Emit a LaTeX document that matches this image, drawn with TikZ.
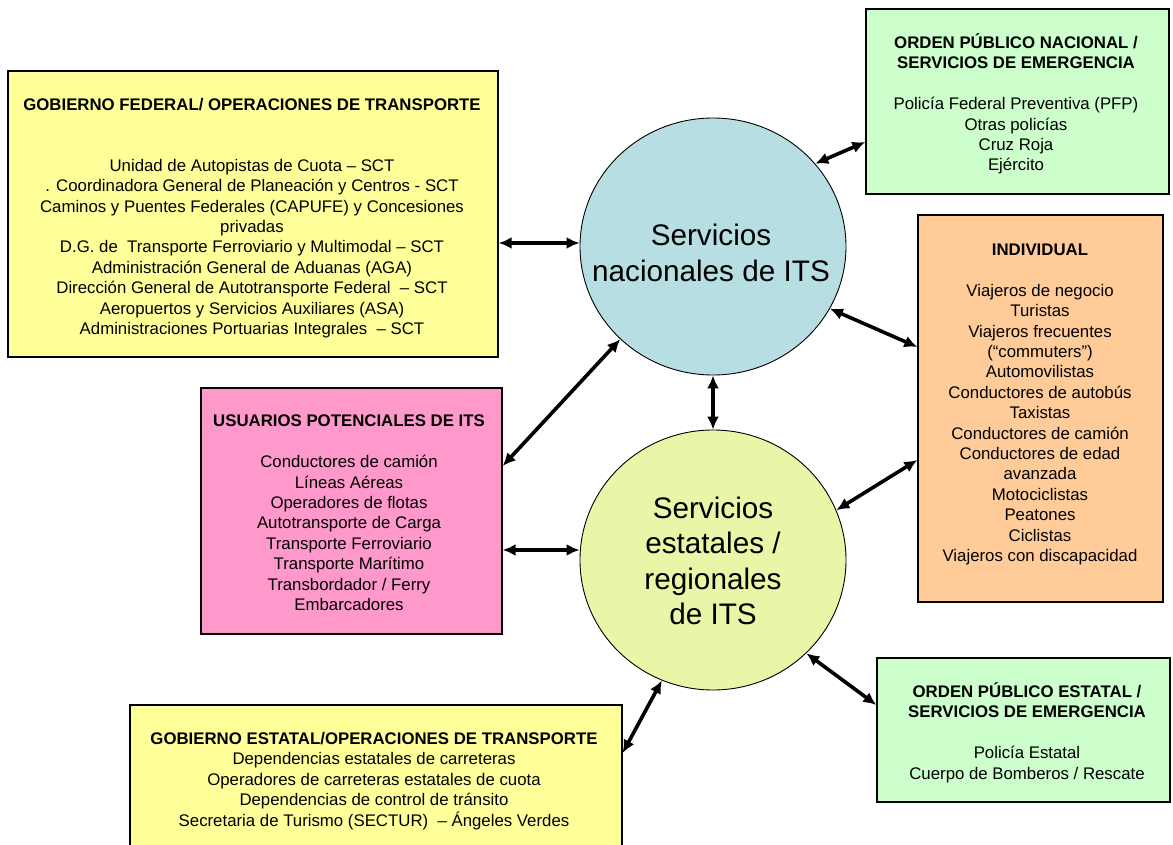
\documentclass[tikz,border=0pt]{standalone}
\usepackage{fontspec}
\setmainfont{Liberation Sans}
\usetikzlibrary{shapes.geometric,arrows.meta,calc}
\definecolor{boxyellow}{RGB}{255,255,153}
\definecolor{boxgreen}{RGB}{204,255,204}
\definecolor{boxorange}{RGB}{255,204,153}
\definecolor{boxpink}{RGB}{255,153,204}
\definecolor{hubblue}{RGB}{183,222,227}
\definecolor{hubyellow}{RGB}{232,246,168}
\begin{document}
\begin{tikzpicture}[x=1pt,y=-1pt,
  box/.style={draw=black, line width=1.3pt, inner sep=0pt},
  txt/.style={align=center, font=\fontsize{16.8}{20.4}\selectfont, inner sep=0pt},
  hub/.style={ellipse, draw=black, line width=0.9pt, inner sep=0pt, minimum width=266pt},
  hubtxt/.style={align=center, font=\fontsize{29.7}{35.5}\selectfont, inner sep=0pt},
  link/.style={line width=3.6pt, {Latex[length=13pt,width=12pt]}-{Latex[length=13pt,width=12pt]}}]
\clip (0,0) rectangle (1173,845);
\fill[white] (0,0) rectangle (1173,845);

% boxes
\node[box, fill=boxyellow, minimum width=490pt, minimum height=286pt] (fed) at (253,214) {};
\node[box, fill=boxgreen, minimum width=303pt, minimum height=185pt] (nat) at (1017.5,101.5) {};
\node[box, fill=boxorange, minimum width=245pt, minimum height=387pt] (ind) at (1040.5,408.5) {};
\node[box, fill=boxpink, minimum width=301pt, minimum height=246pt] (pot) at (351.5,511) {};
\node[box, fill=boxyellow, minimum width=492pt, minimum height=150pt] (est) at (376,780) {};
\node[box, fill=boxgreen, minimum width=293pt, minimum height=144pt] (ests) at (1023.5,730) {};

% hubs
\node[hub, fill=hubblue, minimum height=257pt] (circ1) at (713,246.5) {};
\node[hub, fill=hubyellow, minimum height=260pt] (circ2) at (713,560) {};
\node[hubtxt] (circ1txt) at (711,253) {Servicios\\nacionales de ITS};
\node[hubtxt] (circ2txt) at (713,561) {Servicios\\estatales /\\regionales\\de ITS};

% box texts
\node[txt] (fedtxt) at (252,218) {\textbf{GOBIERNO FEDERAL/ OPERACIONES DE TRANSPORTE}\\[40.8pt]
Unidad de Autopistas de Cuota – SCT\\
. Coordinadora General de Planeación y Centros - SCT\\
Caminos y Puentes Federales (CAPUFE) y Concesiones\\
privadas\\
D.G. de \ Transporte Ferroviario y Multimodal – SCT\hspace*{62pt}\\
Administración General de Aduanas (AGA)\\
Dirección General de Autotransporte Federal \ – SCT\\
Aeropuertos y Servicios Auxiliares (ASA)\\
Administraciones Portuarias Integrales \ – SCT};

\node[txt] (nattxt) at (1016,104) {\textbf{ORDEN PÚBLICO NACIONAL /}\\
\textbf{SERVICIOS DE EMERGENCIA}\\[20.4pt]
Policía Federal Preventiva (PFP)\\
Otras policías\\
Cruz Roja\\
Ejército};

\node[txt] (indtxt) at (1040,404.5) {\textbf{INDIVIDUAL}\\[20.4pt]
Viajeros de negocio\\
Turistas\\
Viajeros frecuentes\\
(“commuters”)\\
Automovilistas\\
Conductores de autobús\\
Taxistas\\
Conductores de camión\\
Conductores de edad\\
avanzada\\
Motociclistas\\
Peatones\\
Ciclistas\\
Viajeros con discapacidad};

\node[txt] (pottxt) at (349,513) {\textbf{USUARIOS POTENCIALES DE ITS}\\[20.4pt]
Conductores de camión\\
Líneas Aéreas\\
Operadores de flotas\\
Autotransporte de Carga\\
Transporte Ferroviario\\
Transporte Marítimo\\
Transbordador / Ferry\\
Embarcadores};

\node[txt] (esttxt) at (374,781) {\textbf{GOBIERNO ESTATAL/OPERACIONES DE TRANSPORTE}\\
Dependencias estatales de carreteras\\
Operadores de carreteras estatales de cuota\\
Dependencias de control de tránsito\\
Secretaria de Turismo (SECTUR) \ – Ángeles Verdes};

\node[txt] (eststxt) at (1027,732.5) {\textbf{ORDEN PÚBLICO ESTATAL /}\\
\textbf{SERVICIOS DE EMERGENCIA}\\[20.4pt]
Policía Estatal\\
Cuerpo de Bomberos / Rescate};

% connectors
\draw[link] (fed.east |- 0,243) -- (circ1.west |- 0,243);
\draw[link] (circ1.39) -- (nat.west |- 0,142);
\draw[link] (circ1.-28) -- (ind.west |- 0,347);
\draw[link] (circ1.-135.8) -- (pot.east |- 0,466);
\draw[link] (circ1.south) -- (circ2.north);
\draw[link] (pot.east |- 0,550) -- (circ2.west |- 0,550);
\draw[link] (circ2.22.1) -- (ind.west |- 0,460);
\draw[link] (circ2.-45.9) -- (ests.west |- 0,705);
\draw[link] (circ2.-113.9) -- (est.east |- 0,753);
\end{tikzpicture}
\end{document}
